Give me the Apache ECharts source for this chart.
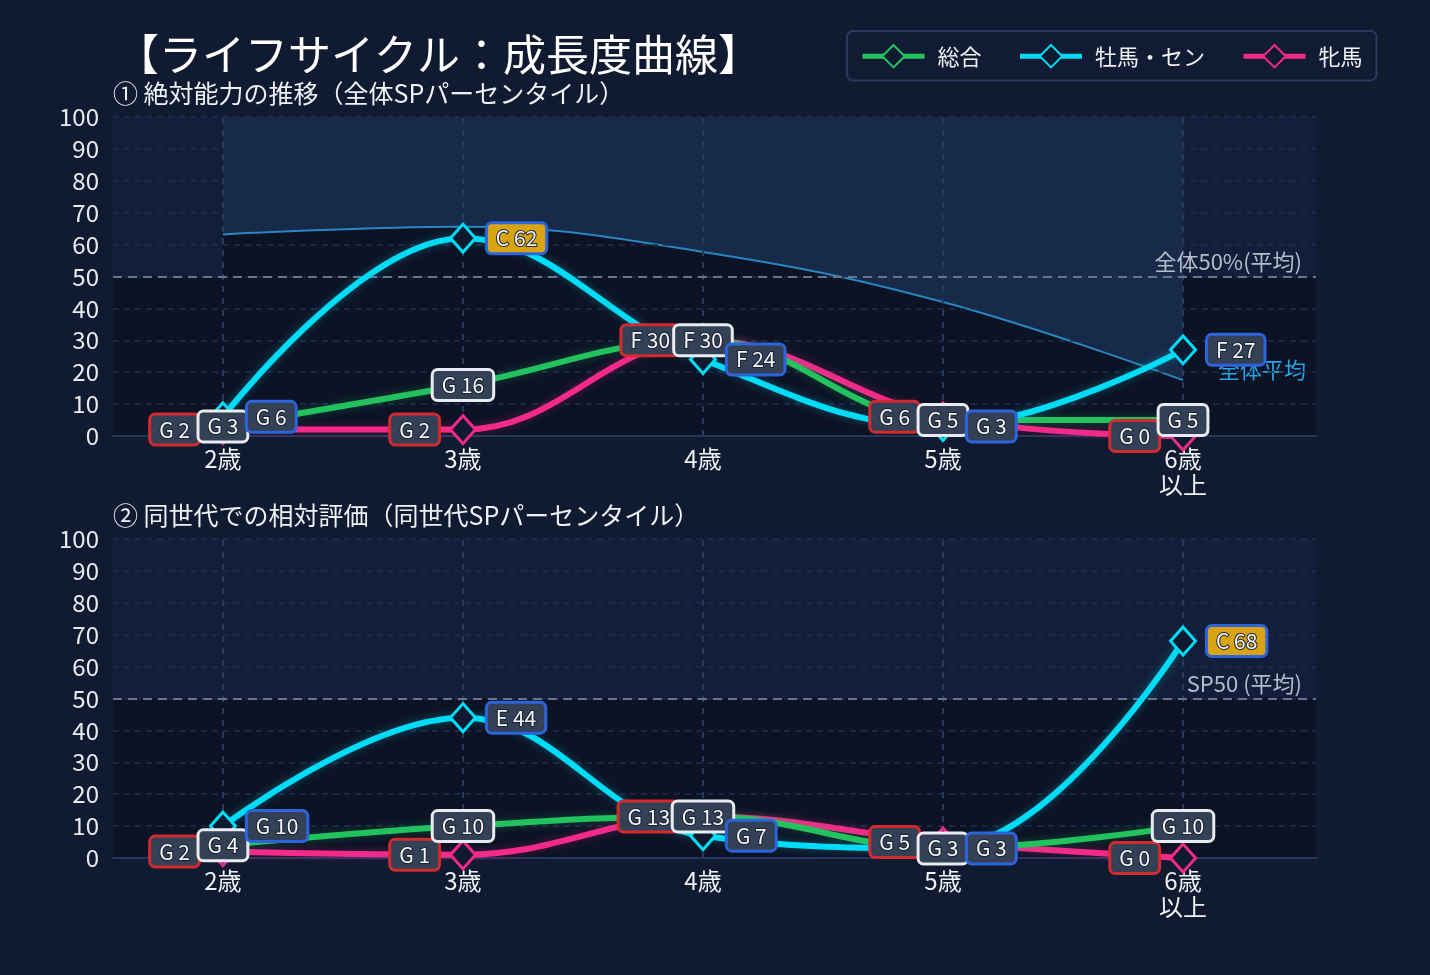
<!DOCTYPE html>
<html>
<head>
<meta charset="utf-8">
<title>ライフサイクル：成長度曲線</title>
<script src="https://cdn.jsdelivr.net/npm/echarts@6/dist/echarts.min.js"></script>
<style>
html, body { margin: 0; padding: 0; background: #101a30; }
#chart { width: 1430px; height: 975px; }
</style>
</head>
<body>
<div id="chart"></div>
<script>
// カテゴリ
var ages = ['2歳', '3歳', '4歳', '5歳', '6歳\n以上'];
var seriesNames = ['総合', '牡馬・セン', '牝馬'];

// ① 絶対能力（全体SPパーセンタイル）
var absTotal = [3, 16, 30, 5, 5];
var absColt = [6, 62, 24, 3, 27];
var absFilly = [2, 2, 30, 6, 0];
var absAvg = [63.2, 65.6, 57.7, 42, 17.5];

// ② 同世代での相対評価
var relTotal = [4, 10, 13, 3, 10];
var relColt = [10, 44, 7, 3, 68];
var relFilly = [2, 1, 13, 5, 0];

var yTicks = [0, 10, 20, 30, 40, 50, 60, 70, 80, 90, 100];

var FONT = '"Noto Sans CJK JP", "Noto Sans", sans-serif';
var C_GREEN = '#22c35e', C_CYAN = '#00dcf5', C_PINK = '#f42a8a';
var X_MIN = -0.458, X_MAX = 4.554;

function grade(v) {
    if (v >= 80) return 'A';
    if (v >= 70) return 'B';
    if (v >= 60) return 'C';
    if (v >= 50) return 'D';
    if (v >= 40) return 'E';
    if (v >= 20) return 'F';
    return 'G';
}

function pts(arr) {
    return arr.map(function (v, i) { return [i, v]; });
}

// 系列ごとのラベル配置と枠色
var labelCfg = {
    '総合': { position: 'inside', border: '#e8ebf0' },
    '牡馬・セン': { position: 'right', border: '#2c64dc' },
    '牝馬': { position: 'left', border: '#d22a2e' }
};
var lineColor = { '総合': C_GREEN, '牡馬・セン': C_CYAN, '牝馬': C_PINK };

function lineSeries(name, arr, idx) {
    var peak = arr.indexOf(Math.max.apply(null, arr));
    var cfg = labelCfg[name];
    var col = lineColor[name];
    return {
        name: name,
        type: 'line',
        xAxisIndex: idx, yAxisIndex: idx,
        smooth: 0.4,
        symbol: 'diamond',
        symbolSize: [25, 28],
        z: 3,
        emphasis: { disabled: true },
        color: col,
        lineStyle: { width: 6, color: col, shadowColor: col + '50', shadowBlur: 9 },
        itemStyle: { color: '#0f1a30', borderColor: col, borderWidth: 3 },
        data: arr.map(function (v, i) {
            var g = grade(v);
            var item = {
                value: [i, v],
                label: {
                    backgroundColor: (g <= 'C') ? '#d8a414' : '#344055'
                }
            };
            if (name === '総合' && i === peak) {
                item.itemStyle = { borderColor: '#e8b020' };
            }
            return item;
        }),
        label: {
            show: true,
            position: cfg.position,
            distance: 11,
            formatter: function (p) { return grade(p.value[1]) + ' ' + p.value[1]; },
            fontFamily: FONT,
            fontSize: 21,
            lineHeight: 23,
            color: '#f4f6fa',
            textBorderColor: '#1a2232',
            textBorderWidth: 2,
            borderColor: cfg.border,
            borderWidth: 3,
            borderRadius: 4,
            padding: [4, 8, 1, 8]
        }
    };
}

function bgSeries(idx, data, color) {
    return {
        type: 'line', xAxisIndex: idx, yAxisIndex: idx,
        data: data, symbol: 'none', silent: true, z: -3,
        lineStyle: { opacity: 0 },
        areaStyle: { color: color, opacity: 1 },
        tooltip: { show: false }
    };
}

function guideSeries(idx, text) {
    return {
        type: 'line', xAxisIndex: idx, yAxisIndex: idx,
        data: [], silent: true, z: 1,
        markLine: {
            silent: true, z: 1, symbol: 'none',
            data: ages.map(function (a, i) {
                return {
                    xAxis: i,
                    lineStyle: { color: '#283a5c', type: [6, 6], width: 2 },
                    label: { show: false }
                };
            }).concat([{
                yAxis: 50,
                lineStyle: { color: '#6a7489', type: [9, 6], width: 2 },
                label: {
                    show: true, position: 'insideEndTop', formatter: text,
                    color: '#b4bccb', fontFamily: FONT, fontSize: 22,
                    distance: 4, padding: [0, 10, 0, 0]
                }
            }])
        }
    };
}

function xAxis(idx) {
    return {
        type: 'value', gridIndex: idx, min: X_MIN, max: X_MAX,
        axisLine: { show: true, lineStyle: { color: '#26365a', width: 2 } },
        axisTick: { show: false },
        splitLine: { show: false },
        axisLabel: {
            customValues: [0, 1, 2, 3, 4],
            formatter: function (v) { return ages[Math.round(v)]; },
            color: '#eef1f5', fontFamily: FONT, fontSize: 24, lineHeight: 26, margin: 10
        }
    };
}

function yAxis(idx) {
    return {
        type: 'value', gridIndex: idx, min: yTicks[0], max: yTicks[yTicks.length - 1], interval: 10,
        axisLine: { show: false }, axisTick: { show: false },
        splitLine: { show: true, lineStyle: { color: '#1f2e4e', type: [6, 5], width: 1.5 } },
        axisLabel: { color: '#e8ebf0', fontFamily: FONT, fontSize: 24, margin: 14 }
    };
}

var chart = echarts.init(document.getElementById('chart'));

var option = {
    backgroundColor: '#101a30',
    animation: false,
    textStyle: { fontFamily: FONT },
    title: [
        { text: '【ライフサイクル：成長度曲線】', left: 116, top: 29, padding: 0,
          textStyle: { color: '#ffffff', fontSize: 43, fontWeight: 'normal', lineHeight: 52, fontFamily: FONT } },
        { text: '① 絶対能力の推移（全体SPパーセンタイル）', left: 113, top: 78, padding: 0,
          textStyle: { color: '#eef1f5', fontSize: 25, fontWeight: 'normal', lineHeight: 30, fontFamily: FONT } },
        { text: '② 同世代での相対評価（同世代SPパーセンタイル）', left: 113, top: 500, padding: 0,
          textStyle: { color: '#eef1f5', fontSize: 25, fontWeight: 'normal', lineHeight: 30, fontFamily: FONT } }
    ],
    legend: {
        data: seriesNames,
        left: 847, top: 31,
        padding: [13, 14, 12, 13],
        itemWidth: 62, itemHeight: 28, itemGap: 36,
        lineStyle: { width: 5 },
        backgroundColor: '#111c34',
        borderColor: '#2a3a5c', borderWidth: 2, borderRadius: 6,
        textStyle: { color: '#f0f2f6', fontSize: 22, fontFamily: FONT, padding: [0, 0, 0, 8] }
    },
    grid: [
        { left: 113, top: 117, width: 1203, height: 319 },
        { left: 113, top: 539, width: 1203, height: 319 }
    ],
    xAxis: [xAxis(0), xAxis(1)],
    yAxis: [yAxis(0), yAxis(1)],
    series: [
        // 上段背景
        bgSeries(0, [[X_MIN, 100], [X_MAX, 100]], '#131f3a'),
        bgSeries(0, [[X_MIN, 50], [X_MAX, 50]], '#0c1325'),
        bgSeries(0, [[0, 100], [4, 100]], '#172a4a'),
        {
            name: '全体平均', type: 'line', xAxisIndex: 0, yAxisIndex: 0,
            data: pts(absAvg), smooth: 0.4, symbol: 'none', silent: true, z: -3,
            lineStyle: { color: '#2a86c0', width: 2 },
            areaStyle: { color: '#0c1325', opacity: 1 },
            endLabel: {
                show: true, formatter: '全体平均', color: '#2aa3e6',
                fontFamily: FONT, fontSize: 22, distance: 5, offset: [30, -11]
            }
        },
        // 下段背景
        bgSeries(1, [[X_MIN, 100], [X_MAX, 100]], '#131f3a'),
        bgSeries(1, [[X_MIN, 50], [X_MAX, 50]], '#0c1325'),
        guideSeries(0, '全体50%(平均)'),
        guideSeries(1, 'SP50 (平均)'),
        lineSeries('牝馬', absFilly, 0),
        lineSeries('総合', absTotal, 0),
        lineSeries('牡馬・セン', absColt, 0),
        lineSeries('牝馬', relFilly, 1),
        lineSeries('総合', relTotal, 1),
        lineSeries('牡馬・セン', relColt, 1)
    ]
};

chart.setOption(option);
</script>
</body>
</html>
